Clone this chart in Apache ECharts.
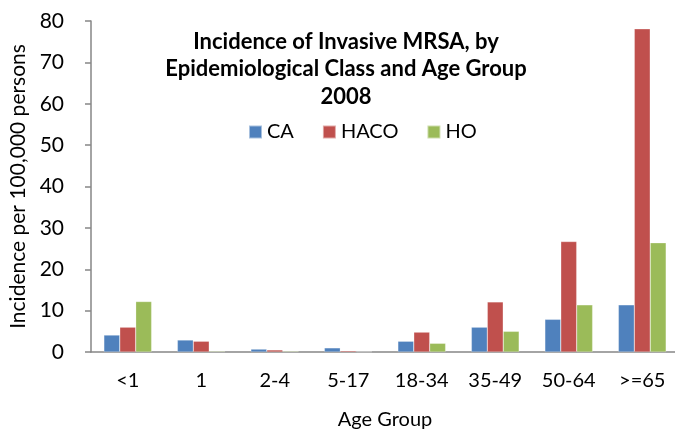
<!DOCTYPE html>
<html><head><meta charset="utf-8">
<script src="https://cdn.jsdelivr.net/npm/echarts@6/dist/echarts.min.js"></script>
<style>html,body{margin:0;padding:0;background:#fff}#c{width:675px;height:434px}</style>
</head><body><div id="c"></div>
<script>
var categories = ['<1','1','2-4','5-17','18-34','35-49','50-64','>=65'];
var CA   = [4.1, 2.9, 0.7, 1.0, 2.6, 6.0, 7.9, 11.4];
var HACO = [6.0, 2.6, 0.5, 0.3, 4.8, 12.1, 26.7, 78.1];
var HO   = [12.2, 0.2, 0.2, 0.1, 2.1, 5.0, 11.4, 26.4];
var yTicks = [0, 10, 20, 30, 40, 50, 60, 70, 80];

var font = 'Lato, "Open Sans", sans-serif';
var chart = echarts.init(document.getElementById('c'));
function bar(name, data, color){
  return {name:name, type:'bar', data:data, barGap:'0%', barCategoryGap:'35%',
    itemStyle:{color:color, borderColor:'rgba(255,255,255,0.5)', borderWidth:0.5}};
}
chart.setOption({
  animation:false,
  title:{text:'Incidence of Invasive MRSA, by\nEpidemiological Class and Age Group\n2008',
    left:341, top:23, textAlign:'center',
    textStyle:{fontFamily:font, fontSize:22, fontWeight:'bold', color:'#000', lineHeight:27.5}},
  legend:{left:243, top:117, itemWidth:13, itemHeight:13, itemGap:28, icon:'rect',
    textStyle:{fontFamily:font, fontSize:20, color:'#000'}, data:['CA','HACO','HO']},
  grid:{left:91, top:21, width:588, height:331, containLabel:false, outerBoundsMode:'none'},
  xAxis:{type:'category', data:categories, name:'Age Group', nameLocation:'middle', nameGap:58,
    nameTextStyle:{fontFamily:font, fontSize:20, color:'#000'},
    axisLine:{lineStyle:{color:'#868686', width:1.5}},
    axisTick:{length:7, lineStyle:{color:'#868686', width:1.5}},
    axisLabel:{fontFamily:font, fontSize:20, color:'#000', margin:19}},
  yAxis:{type:'value', min:0, max:80, interval:10, name:'Incidence per 100,000 persons',
    nameLocation:'middle', nameGap:62,
    nameTextStyle:{fontFamily:font, fontSize:21, color:'#000'},
    axisLine:{show:true, lineStyle:{color:'#868686', width:1.5}},
    axisTick:{show:true, length:6, lineStyle:{color:'#868686', width:1.5}},
    splitLine:{show:false},
    axisLabel:{fontFamily:font, fontSize:21, color:'#000', margin:27,
      formatter:function(v){return yTicks.indexOf(v)>=0 ? String(v) : '';}}},
  series:[bar('CA', CA, '#4F81BD'), bar('HACO', HACO, '#C0504D'), bar('HO', HO, '#9BBB59')]
});
</script></body></html>
